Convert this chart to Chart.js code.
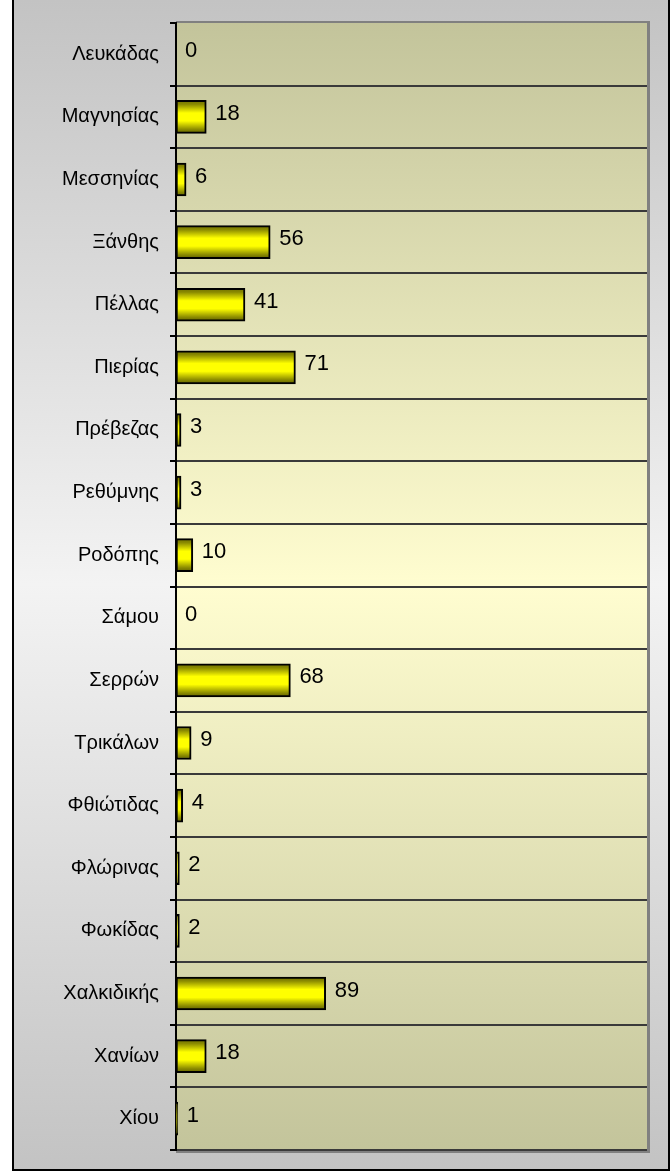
<!DOCTYPE html>
<html>
<head>
<meta charset="utf-8">
<script src="https://cdn.jsdelivr.net/npm/chart.js@4.4.0/dist/chart.umd.min.js"></script>
<style>
  html, body { margin:0; padding:0; background:#ffffff; width:672px; height:1173px; overflow:hidden; }
  #frame { position:absolute; left:12px; top:0; width:654px; height:1169px;
    border-left:2px solid #000; border-right:2px solid #000; border-bottom:2px solid #000;
    background:linear-gradient(to bottom, #c3c3c3 0%, #f3f3f3 50%, #c3c3c3 100%); }
  #c { position:absolute; left:0; top:0; }
</style>
</head>
<body>
<div id="frame"></div>
<canvas id="c" width="672" height="1173"></canvas>
<script>
const categories = ["Λευκάδας","Μαγνησίας","Μεσσηνίας","Ξάνθης","Πέλλας","Πιερίας","Πρέβεζας","Ρεθύμνης","Ροδόπης","Σάμου","Σερρών","Τρικάλων","Φθιώτιδας","Φλώρινας","Φωκίδας","Χαλκιδικής","Χανίων","Χίου"];
const values = [0,18,6,56,41,71,3,3,10,0,68,9,4,2,2,89,18,1];
const xMin = 0;
const xMax = 280;

const FONT = "'Liberation Sans', Arial, sans-serif";
const BAR_T = 33;

const plotBg = {
  id: 'plotBg',
  beforeDraw(chart) {
    const {ctx, chartArea: a} = chart;
    ctx.save();
    ctx.fillStyle = '#808080';
    ctx.fillRect(a.left, a.top - 2, a.right - a.left + 3, a.bottom - a.top + 5);
    const g = ctx.createLinearGradient(0, a.top, 0, a.bottom);
    g.addColorStop(0, '#c3c49b');
    g.addColorStop(0.5, '#fffdd0');
    g.addColorStop(1, '#c3c49b');
    ctx.fillStyle = g;
    ctx.fillRect(a.left, a.top, a.right - a.left, a.bottom - a.top);
    ctx.restore();
  }
};

function barGradient(context) {
  const chart = context.chart;
  const ys = chart.scales && chart.scales.y;
  if (!ys || context.dataIndex === undefined) return '#ffff00';
  const cy = ys.getPixelForValue(context.dataIndex);
  if (!isFinite(cy)) return '#ffff00';
  const top = cy - BAR_T / 2;
  const g = chart.ctx.createLinearGradient(0, top, 0, top + BAR_T);
  g.addColorStop(0, '#6f6f00');
  g.addColorStop(0.12, '#8a8a00');
  g.addColorStop(0.38, '#ffff00');
  g.addColorStop(0.62, '#ffff00');
  g.addColorStop(0.88, '#8a8a00');
  g.addColorStop(1, '#5f5f00');
  return g;
}

const valueLabels = {
  id: 'valueLabels',
  afterDatasetsDraw(chart) {
    const ctx = chart.ctx;
    const ds = chart.data.datasets[0];
    ctx.save();
    ctx.font = '22px ' + FONT;
    ctx.fillStyle = '#000';
    ctx.textAlign = 'left';
    ctx.textBaseline = 'middle';
    chart.getDatasetMeta(0).data.forEach((el, i) => {
      ctx.fillText(String(ds.data[i]), el.x + 9, el.y - 3);
    });
    ctx.restore();
  }
};

new Chart(document.getElementById('c'), {
  type: 'bar',
  data: {
    labels: categories,
    datasets: [{
      data: values,
      backgroundColor: barGradient,
      borderColor: '#000000',
      borderWidth: 2,
      borderSkipped: false,
      barThickness: BAR_T
    }]
  },
  options: {
    indexAxis: 'y',
    responsive: false,
    devicePixelRatio: 1,
    animation: false,
    layout: { padding: { left: 0, top: 22, right: 25, bottom: 8 } },
    plugins: { legend: { display: false }, tooltip: { enabled: false } },
    scales: {
      x: { display: false, min: xMin, max: xMax },
      y: {
        afterFit(scale) { scale.width = 176; },
        grid: {
          color: (c) => (c.index === 0 || c.index === categories.length) ? 'rgba(0,0,0,0)' : '#3a3a3a',
          tickColor: '#000',
          lineWidth: 2,
          tickLength: 6,
          offset: true
        },
        border: { color: '#000', width: 2 },
        ticks: { color: '#000', padding: 11, font: { family: FONT, size: 20 } }
      }
    }
  },
  plugins: [plotBg, valueLabels]
});
</script>
</body>
</html>
